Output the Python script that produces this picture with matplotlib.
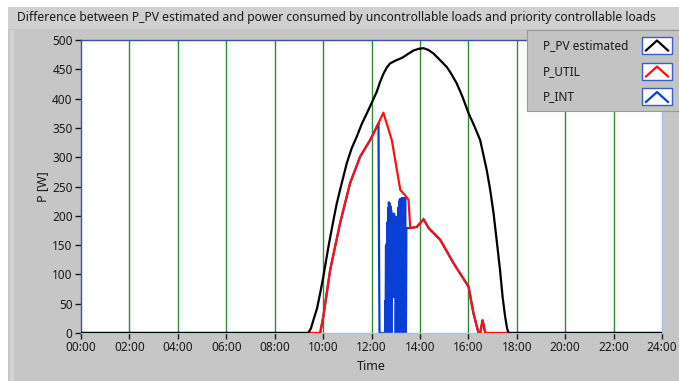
import numpy as np
import matplotlib
matplotlib.use('Agg')
import matplotlib.pyplot as plt
from matplotlib.patches import Rectangle
from matplotlib.lines import Line2D

# P_PV estimated (black)
t_pv = [0, 9.39, 9.50, 9.60, 9.75, 9.88, 10.01, 10.22, 10.43, 10.56, 10.70, 10.98, 11.18, 11.39,
        11.60, 11.81, 12.00, 12.22, 12.35, 12.49, 12.63, 12.77, 12.90, 13.05, 13.18, 13.32, 13.50,
        13.73, 13.95, 14.15, 14.35, 14.56, 14.80, 15.11, 15.30, 15.52, 15.75, 16.01, 16.25, 16.49,
        16.76, 16.90, 17.04, 17.18, 17.31, 17.42, 17.52, 17.60, 17.66, 24]
p_pv = [0, 0, 8, 22, 42, 68, 96, 147, 193, 220, 244, 290, 315, 335,
        357, 375, 392, 412, 428, 442, 453, 460, 463, 466, 468, 471, 476,
        482, 485, 486, 483, 477, 467, 454, 442, 426, 404, 375, 353, 329,
        278, 245, 205, 155, 107, 60, 28, 8, 0, 0]

# P_UTIL (red)
t_util = [0, 9.39, 9.88, 10.01, 10.29, 10.70, 11.11, 11.53, 11.94, 12.22, 12.49, 12.84, 13.05,
          13.19, 13.39, 13.53, 13.60, 13.87, 14.15, 14.36, 14.84, 15.39, 16.01, 16.21, 16.42,
          16.49, 16.59, 16.70, 24]
p_util = [0, 0, 0, 28, 107, 187, 255, 301, 329, 352, 376, 329, 278,
          244, 235, 227, 179, 181, 194, 179, 159, 119, 79, 34, 0,
          0, 22, 0, 0]

# P_INT (blue)
t_int = [0, 9.39, 9.88, 10.01, 10.29, 10.70, 11.11, 11.53, 11.94, 12.22, 12.29, 12.31, 12.33,
         12.56, 12.57, 12.58, 12.60, 12.61, 12.63, 12.64, 12.66, 12.67, 12.69, 12.70, 12.72,
         12.73, 12.75, 12.76, 12.78, 12.79, 12.81, 12.82, 12.84, 12.85, 12.87, 12.88, 12.90,
         12.91, 12.93, 12.94, 12.96, 12.97, 12.99, 13.00, 13.02, 13.03, 13.05, 13.06, 13.08,
         13.09, 13.11, 13.12, 13.14, 13.15, 13.17, 13.18, 13.20, 13.21, 13.23, 13.24, 13.26,
         13.27, 13.29, 13.30, 13.32, 13.33, 13.36, 13.37, 13.39, 13.40, 13.42, 13.44, 13.60,
         13.87, 14.15, 14.36, 14.84, 15.39, 16.01, 16.21, 16.42, 16.49, 16.59, 16.70, 24]
p_int = [0, 0, 0, 28, 107, 187, 255, 301, 329, 352, 358, 150, 0,
         0, 56, 0, 150, 0, 153, 0, 190, 0, 215, 0, 224,
         0, 222, 0, 217, 0, 210, 0, 205, 62, 200, 60, 198,
         62, 205, 60, 200, 62, 195, 0, 193, 0, 192, 0, 200,
         0, 215, 0, 225, 0, 228, 0, 230, 0, 230, 0, 232,
         0, 230, 0, 232, 0, 232, 0, 232, 0, 0, 179, 179,
         181, 194, 179, 159, 119, 79, 34, 0, 0, 22, 0, 0]

hours = list(range(0, 25, 2))
hour_labels = ['%02d:00' % h for h in hours]
y_ticks = list(range(0, 501, 50))

plt.rcParams['font.family'] = ['Noto Sans', 'DejaVu Sans']

W, H = 679, 381
fig = plt.figure(figsize=(W/100, H/100), dpi=100, facecolor='white')

def box(x0, y0, x1, y1, **kw):
    # rectangle given in pixel coords (origin top-left)
    r = Rectangle((x0/W, 1-y1/H), (x1-x0)/W, (y1-y0)/H, transform=fig.transFigure, **kw)
    fig.add_artist(r)
    return r

box(8, 7, 679, 381, facecolor='#c6c6c6', edgecolor='none', zorder=0)
box(10, 30, 14, 381, facecolor='#d2d2d2', edgecolor='none', zorder=0)
box(8, 7, 679, 29, facecolor='#d0d0d0', edgecolor='none', zorder=0)
fig.text(17/W, 1-18/H, 'Difference between P_PV estimated and power consumed by uncontrollable loads and priority controllable loads',
         fontsize=8.75, color='#1a1a1a', va='center', ha='left')

ax = fig.add_axes([81/W, 1-333/H, (662-81)/W, (333-40)/H])
ax.set_facecolor('white')
for x in hours[1:-1]:
    ax.axvline(x, color='#2e8b2e', lw=1.0, zorder=1)
ax.plot(t_int, p_int, color='#0a3fd6', lw=1.6, zorder=2, solid_joinstyle='miter')
ax.plot(t_util, p_util, color='#ff1010', lw=1.6, zorder=3)
ax.plot(t_pv, p_pv, color='black', lw=1.6, zorder=4)
ax.set_xlim(0, 24)
ax.set_ylim(0, 500)
ax.set_xticks(hours)
ax.set_xticklabels(hour_labels)
ax.set_yticks(y_ticks)
ax.tick_params(direction='out', length=4, width=1, colors='#1a1a1a', labelsize=8.5, pad=2)
for s in ax.spines.values():
    s.set_color('#a8bde8')
    s.set_linewidth(1)
ax.spines['left'].set_color('#3355aa')
ax.spines['top'].set_color('#3355aa')
ax.set_xlabel('Time', fontsize=9, color='#1a1a1a', labelpad=4)
ax.set_ylabel('P [W]', fontsize=9, color='#1a1a1a', labelpad=2)

# legend panel
box(527, 30, 679, 111, facecolor='#c3c3c3', edgecolor='#9a9a9a', lw=0.8, zorder=5)
items = [('P_PV estimated', 'black', 45.5), ('P_UTIL', '#ff1010', 71.5), ('P_INT', '#0a3fd6', 97)]
for name, col, yc in items:
    fig.text(543/W, 1-yc/H, name, fontsize=8.5, color='#1a1a1a', va='center', ha='left', zorder=6)
    box(642, yc-9, 672, yc+8, facecolor='white', edgecolor='#3a5fc8', lw=1, zorder=6)
    fig.add_artist(Line2D([646/W, 657/W, 668/W], [1-(yc+5)/H, 1-(yc-5)/H, 1-(yc+5)/H],
                          transform=fig.transFigure, color=col, lw=1.6, zorder=7))

fig.savefig('out.png', dpi=100, facecolor=fig.get_facecolor())
